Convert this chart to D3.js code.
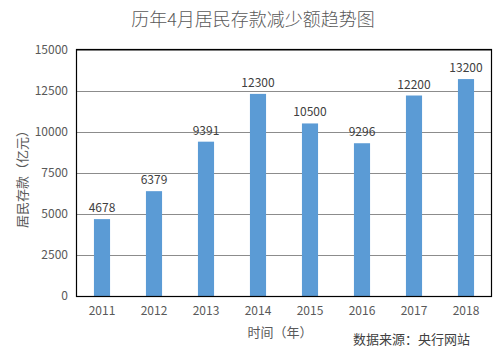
<!DOCTYPE html>
<html lang="zh">
  <head>
    <meta charset="utf-8" />
    <script src="https://cdn.jsdelivr.net/npm/d3@7"></script>
    <style>
      body { margin: 0; background: #fff; }
      text { font-family: "Noto Sans CJK SC", "DejaVu Sans", sans-serif; fill: #595959; }
    </style>
  </head>
  <body>
    <div id="chart"></div>
    <script>
      // data
      const years = ["2011", "2012", "2013", "2014", "2015", "2016", "2017", "2018"];
      const values = [4678, 6379, 9391, 12300, 10500, 9296, 12200, 13200];
      const yTicks = [0, 2500, 5000, 7500, 10000, 12500, 15000];

      const width = 502;
      const height = 354;
      const margin = { top: 49.5, right: 10, bottom: 58, left: 76 };

      const svg = d3.select("#chart").append("svg")
        .attr("width", width)
        .attr("height", height);

      const xScale = d3.scaleBand()
        .domain(years)
        .range([margin.left, width - margin.right])
        .paddingInner(0.69)
        .paddingOuter(0.345);

      const yScale = d3.scaleLinear()
        .domain([0, 15000])
        .range([height - margin.bottom, margin.top]);

      // gridlines
      svg.append("g")
        .selectAll("line")
        .data(yTicks)
        .enter()
        .append("line")
        .attr("x1", margin.left)
        .attr("x2", width - margin.right)
        .attr("y1", d => Math.round(yScale(d)) + 0.5)
        .attr("y2", d => Math.round(yScale(d)) + 0.5)
        .attr("stroke", "#8c8c8c")
        .attr("stroke-width", 1);

      // y axis labels
      const yAxis = d3.axisLeft(yScale)
        .tickValues(yTicks)
        .tickFormat(d3.format("d"))
        .tickSize(0)
        .tickPadding(8);
      svg.append("g")
        .attr("transform", `translate(${margin.left}, 0)`)
        .call(yAxis)
        .call(g => g.select(".domain").remove())
        .selectAll("text")
        .attr("font-size", 12)
        .style("fill", "#595959");

      // x axis labels
      const xAxis = d3.axisBottom(xScale).tickSize(0).tickPadding(10);
      svg.append("g")
        .attr("transform", `translate(0, ${height - margin.bottom})`)
        .call(xAxis)
        .call(g => g.select(".domain").remove())
        .selectAll("text")
        .attr("font-size", 12)
        .style("fill", "#595959");

      // bars
      svg.append("g")
        .selectAll("rect")
        .data(values)
        .enter()
        .append("rect")
        .attr("x", (d, i) => xScale(years[i]))
        .attr("y", d => yScale(d))
        .attr("width", xScale.bandwidth())
        .attr("height", d => yScale(0) - yScale(d))
        .attr("fill", "#5b9bd5");

      // value labels
      svg.append("g")
        .selectAll("text")
        .data(values)
        .enter()
        .append("text")
        .attr("x", (d, i) => xScale(years[i]) + xScale.bandwidth() / 2)
        .attr("y", d => yScale(d) - 7)
        .attr("text-anchor", "middle")
        .attr("font-size", 12)
        .style("fill", "#404040")
        .text(d => d);

      // plot border
      svg.append("rect")
        .attr("x", margin.left + 0.5)
        .attr("y", margin.top)
        .attr("width", width - margin.right - margin.left - 1)
        .attr("height", height - margin.bottom - margin.top + 0.5)
        .attr("fill", "none")
        .attr("stroke", "#000")
        .attr("stroke-width", 1.2);

      // title
      svg.append("text")
        .attr("x", 253)
        .attr("y", 26)
        .attr("text-anchor", "middle")
        .attr("font-size", 18)
        .attr("font-weight", 300)
        .text("历年4月居民存款减少额趋势图");

      // y label
      svg.append("text")
        .attr("transform", `translate(27, 176) rotate(-90)`)
        .attr("text-anchor", "middle")
        .attr("font-size", 13)
        .text("居民存款（亿元）");

      // x label
      svg.append("text")
        .attr("x", 280)
        .attr("y", 337)
        .attr("text-anchor", "middle")
        .attr("font-size", 13)
        .text("时间（年）");

      // source
      svg.append("text")
        .attr("x", 470)
        .attr("y", 344)
        .attr("text-anchor", "end")
        .attr("font-size", 13)
        .style("fill", "#404040")
        .text("数据来源：央行网站");
    </script>
  </body>
</html>
